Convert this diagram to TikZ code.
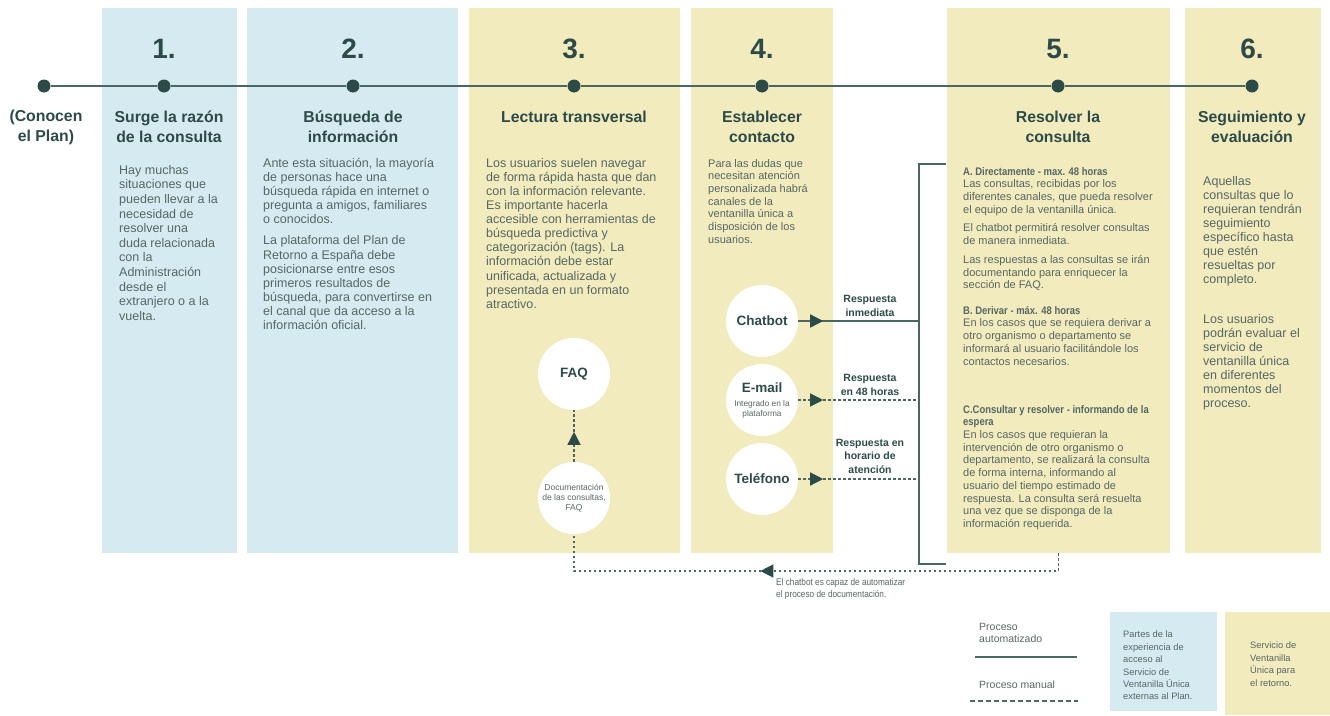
\documentclass[tikz,border=0pt]{standalone}
\usepackage{fontspec}
\setmainfont{Liberation Sans}
\newfontfamily\narrowfont{Liberation Sans}[FakeStretch=0.86]
\usetikzlibrary{positioning,arrows.meta,decorations.markings}

\definecolor{panelblue}{HTML}{D6EAF1}
\definecolor{panelyellow}{HTML}{F2EBBE}
\definecolor{darkteal}{HTML}{2C4B48}
\definecolor{linecol}{HTML}{4A6764}
\definecolor{greytxt}{HTML}{566764}
\newcommand\chantiny{\fontsize{8.3}{10}\selectfont\mdseries\color{greytxt}}

\begin{document}
\begin{tikzpicture}[x=1pt,y=-1pt,
  panel/.style={anchor=north west,inner sep=0,minimum height=545},
  bluepanel/.style={panel,fill=panelblue},
  yelpanel/.style={panel,fill=panelyellow},
  timedot/.style={circle,fill=darkteal,inner sep=0,minimum size=13},
  stepnum/.style={font=\fontsize{28}{30}\selectfont\bfseries,text=darkteal},
  steptitle/.style={font=\fontsize{15.8}{20}\selectfont\bfseries,text=darkteal,align=center},
  stepbody/.style={anchor=north west,inner sep=0,align=left,text=greytxt,
    font=\fontsize{12.5}{14.1}\selectfont},
  smallbody/.style={stepbody,font=\fontsize{11}{12.7}\selectfont},
  bubble/.style={circle,fill=white,minimum size=72,inner sep=0,align=center,text=darkteal,
    font=\fontsize{13.5}{15}\selectfont\bfseries},
  resplbl/.style={align=center,text=darkteal,font=\fontsize{10.5}{13.5}\selectfont\bfseries},
  notelbl/.style={anchor=north west,inner sep=0,align=left,text=greytxt,
    font=\narrowfont\fontsize{9.6}{12}\selectfont},
  legtxt/.style={anchor=north west,inner sep=0,align=left,text=greytxt,
    font=\fontsize{10.5}{12.5}\selectfont},
  autoline/.style={draw=linecol,line width=1.5pt},
  manualline/.style={draw=linecol,line width=1.3pt,dash pattern=on 2.5pt off 2.5pt},
  tipat/.style={postaction={decorate},decoration={markings,
    mark=at position #1 with {\arrow[darkteal]{Triangle[length=13pt,width=13pt]}}}}]
\useasboundingbox (0,0) rectangle (1330,715);

% columns
\node[bluepanel,minimum width=135] (p1) at (102,8) {};
\node[bluepanel,minimum width=211] (p2) at (247,8) {};
\node[yelpanel,minimum width=211] (p3) at (469,8) {};
\node[yelpanel,minimum width=142] (p4) at (691,8) {};
\node[yelpanel,minimum width=223] (p5) at (947,8) {};
\node[yelpanel,minimum width=136] (p6) at (1185,8) {};

% step numbers
\node[stepnum] (n1) at (164,49) {1.};
\node[stepnum] (n2) at (353,49) {2.};
\node[stepnum] (n3) at (574,49) {3.};
\node[stepnum] (n4) at (762,49) {4.};
\node[stepnum] (n5) at (1058,49) {5.};
\node[stepnum] (n6) at (1252,49) {6.};

% timeline
\node[timedot] (d0) at (44,86) {};
\node[timedot] (d1) at (164,86) {};
\node[timedot] (d2) at (353,86) {};
\node[timedot] (d3) at (574,86) {};
\node[timedot] (d4) at (762,86) {};
\node[timedot] (d5) at (1058,86) {};
\node[timedot] (d6) at (1252,86) {};
\draw[autoline] (d0) -- (d1) -- (d2) -- (d3) -- (d4) -- (d5) -- (d6);

% titles
\node[steptitle] (t0) at (46,127) {(Conocen\\el Plan)};
\node[steptitle] (t1) at (169,127) {Surge la razón\\de la consulta};
\node[steptitle] (t2) at (353,127) {Búsqueda de\\información};
\node[steptitle] (t3) at (574,117) {Lectura transversal};
\node[steptitle] (t4) at (762,127) {Establecer\\contacto};
\node[steptitle] (t5) at (1058,127) {Resolver la\\consulta};
\node[steptitle] (t6) at (1252,127) {Seguimiento y\\evaluación};

% texts
\node[stepbody,font=\fontsize{12.5}{14.6}\selectfont] (b1) at (119,165) {Hay muchas\\situaciones que\\pueden llevar a la\\necesidad de\\resolver una\\duda relacionada\\con la\\Administración\\desde el\\extranjero o a la\\vuelta.};
\node[stepbody] (b2) at (263,158) {Ante esta situación, la mayoría\\de personas hace una\\búsqueda rápida en internet o\\pregunta a amigos, familiares\\o conocidos.\\[7pt]
  La plataforma del Plan de\\Retorno a España debe\\posicionarse entre esos\\primeros resultados de\\búsqueda, para convertirse en\\el canal que da acceso a la\\información oficial.};
\node[stepbody] (b3) at (486,158) {Los usuarios suelen navegar\\de forma rápida hasta que dan\\con la información relevante.\\Es importante hacerla\\accesible con herramientas de\\búsqueda predictiva y\\categorización (tags). La\\información debe estar\\unificada, actualizada y\\presentada en un formato\\atractivo.};
\node[smallbody] (b4) at (708,159) {Para las dudas que\\necesitan atención\\personalizada habrá\\canales de la\\ventanilla única a\\disposición de los\\usuarios.};
\node[smallbody] (b5a) at (963,167) {{\narrowfont\bfseries A. Directamente - max. 48 horas}\\Las consultas, recibidas por los\\diferentes canales, que pueda resolver\\el equipo de la ventanilla única.\\[6pt]
  El chatbot permitirá resolver consultas\\de manera inmediata.\\[6pt]
  Las respuestas a las consultas se irán\\documentando para enriquecer la\\sección de FAQ.};
\node[smallbody] (b5b) at (963,306) {{\narrowfont\bfseries B. Derivar - máx. 48 horas}\\En los casos que se requiera derivar a\\otro organismo o departamento se\\informará al usuario facilitándole los\\contactos necesarios.};
\node[smallbody] (b5c) at (963,405) {{\narrowfont\bfseries C.Consultar y resolver - informando de la}\\{\narrowfont\bfseries espera}\\En los casos que requieran la\\intervención de otro organismo o\\departamento, se realizará la consulta\\de forma interna, informando al\\usuario del tiempo estimado de\\respuesta. La consulta será resuelta\\una vez que se disponga de la\\información requerida.};
\node[stepbody] (b6) at (1203,176) {Aquellas\\consultas que lo\\requieran tendrán\\seguimiento\\específico hasta\\que estén\\resueltas por\\completo.\\[25pt]
  Los usuarios\\podrán evaluar el\\servicio de\\ventanilla única\\en diferentes\\momentos del\\proceso.};

% channels
\node[bubble] (chat) at (762,321) {Chatbot};
\node[bubble] (mail) at (762,400) {E-mail\\[-1pt]\chantiny Integrado en la\\[-5pt]\chantiny plataforma};
\node[bubble] (tel) at (762,479) {Teléfono};
\node[bubble] (faq) at (574,374) {FAQ};
\node[bubble,font=\fontsize{8.5}{10}\selectfont,text=greytxt] (doc) at (574,498) {Documentación\\de las consultas,\\FAQ};

\coordinate (brtop) at (919,164);
\coordinate (brbot) at (919,564);
\draw[autoline] ([xshift=27pt]brtop) -- (brtop) -- (brbot) -- ([xshift=27pt]brbot);

\draw[autoline,tipat=25pt] (chat.east) -- (chat.east -| brtop);
\draw[manualline,tipat=25pt] (mail.east) -- (mail.east -| brtop);
\draw[manualline,tipat=25pt] (tel.east) -- (tel.east -| brtop);

\node[resplbl] (r1) at (870,306) {Respuesta\\inmediata};
\node[resplbl] (r2) at (870,385) {Respuesta\\en 48 horas};
\node[resplbl] (r3) at (870,456) {Respuesta en\\horario de\\atención};

% documentation loop
\coordinate (fbk) at (0,571);
\draw[manualline,tipat=316pt] (p5.south) -- (p5.south |- fbk) -- (doc |- fbk) -- (doc.south);
\draw[manualline,tipat=30pt] (doc.north) -- (faq.south);
\node[notelbl] (fbnote) at (776,578) {El chatbot es capaz de automatizar\\el proceso de documentación.};

% legend
\node[legtxt] (lg1) at (979,623) {Proceso\\automatizado};
\coordinate (la1) at (975,657);
\coordinate (la2) at (1077,657);
\draw[autoline,line width=2.5pt] (la1) -- (la2);
\node[legtxt] (lg2) at (979,681) {Proceso manual};
\coordinate (lm1) at (970,701);
\coordinate (lm2) at (1078,701);
\draw[manualline,line width=2.5pt,dash pattern=on 5pt off 3pt] (lm1) -- (lm2);
\node[panel,fill=panelblue,minimum width=107,minimum height=99] (lgb) at (1110,612) {};
\node[legtxt,font=\fontsize{9.3}{12.4}\selectfont] (lgbt) at (1123,631) {Partes de la\\experiencia de\\acceso al\\Servicio de\\Ventanilla Única\\externas al Plan.};
\node[panel,fill=panelyellow,minimum width=105,minimum height=103] (lgy) at (1225,612) {};
\node[legtxt,font=\fontsize{9.3}{12.4}\selectfont] (lgyt) at (1250,642) {Servicio de\\Ventanilla\\Única para\\el retorno.};
\end{tikzpicture}
\end{document}
